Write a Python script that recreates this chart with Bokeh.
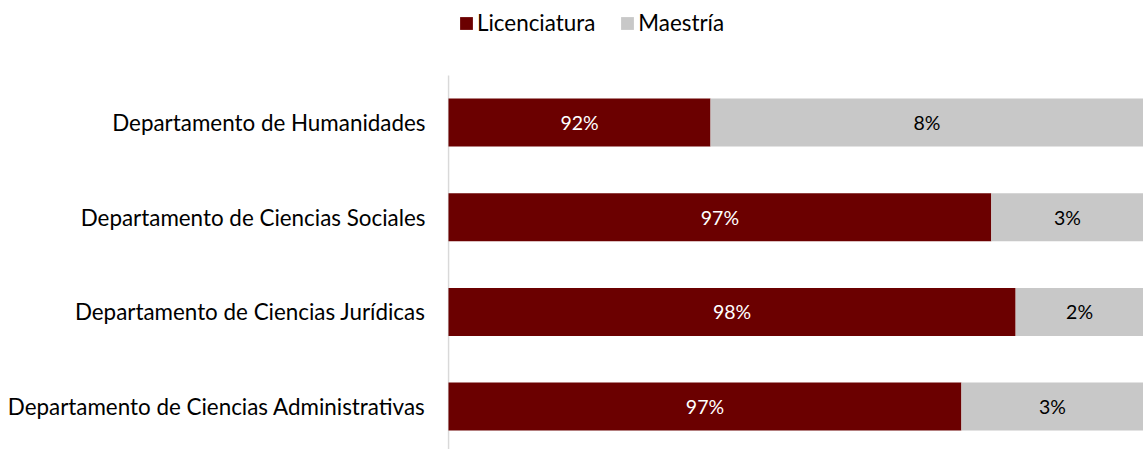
from bokeh.plotting import figure
from bokeh.models import ColumnDataSource, Range1d, FixedTicker, Legend, LegendItem, LabelSet
from bokeh.core.properties import value
from bokeh.embed import file_html
from bokeh.resources import INLINE

# ---- data ----
departments = [
    "Departamento de Humanidades",
    "Departamento de Ciencias Sociales",
    "Departamento de Ciencias Jurídicas",
    "Departamento de Ciencias Administrativas",
]
licenciatura_share = [37.7, 78.1, 81.6, 73.8]
maestria_share = [62.3, 21.9, 18.4, 26.2]
licenciatura_labels = ["92%", "97%", "98%", "97%"]
maestria_labels = ["8%", "3%", "2%", "3%"]
series_names = ["Licenciatura", "Maestría"]

DARK = "#6B0000"
GRAY = "#C8C8C8"
AXIS = "#D9D9D9"
FONT = "Lato"

n = len(departments)
ypos = [n - 1 - i for i in range(n)]
lic_end = licenciatura_share
tot_end = [a + b for a, b in zip(licenciatura_share, maestria_share)]

src = ColumnDataSource(dict(
    y=ypos,
    lic_end=lic_end,
    tot_end=tot_end,
    zero=[0] * n,
    lic_mid=[a / 2 for a in lic_end],
    mae_mid=[(a + b) / 2 for a, b in zip(lic_end, tot_end)],
    lic_lab=licenciatura_labels,
    mae_lab=maestria_labels,
))

Y_TOP, Y_BOT = 4.288, -0.453
p = figure(width=1143, height=449, output_backend="svg", toolbar_location=None,
           x_range=Range1d(-0.144, 100), y_range=Range1d(Y_BOT, Y_TOP),
           min_border_left=447, min_border_right=0, min_border_top=0, min_border_bottom=0)
p.outline_line_color = None
p.xgrid.visible = False
p.ygrid.visible = False
p.xaxis.visible = False

# vertical category axis line (starts below the legend, as in the reference)
p.segment(x0=[0], y0=[Y_BOT], x1=[0], y1=[3.496], line_color=AXIS, line_width=1.6)

bar_h = 0.507
r1 = p.hbar(y="y", left="zero", right="lic_end", height=bar_h, source=src,
            fill_color=DARK, line_color=None)
r2 = p.hbar(y="y", left="lic_end", right="tot_end", height=bar_h, source=src,
            fill_color=GRAY, line_color=None)

p.add_layout(LabelSet(x="lic_mid", y="y", text="lic_lab", source=src,
                      text_align="center", text_baseline="middle",
                      text_color="white", text_font=value(FONT), text_font_size="19.5px"))
p.add_layout(LabelSet(x="mae_mid", y="y", text="mae_lab", source=src,
                      text_align="center", text_baseline="middle",
                      text_color="#000000", text_font=value(FONT), text_font_size="19.5px"))

yax = p.yaxis[0]
yax.ticker = FixedTicker(ticks=ypos)
yax.major_label_overrides = {y: d for y, d in zip(ypos, departments)}
yax.major_tick_line_color = None
yax.major_tick_out = 0
yax.major_tick_in = 0
yax.minor_tick_line_color = None
yax.axis_line_color = None
yax.major_label_standoff = 22
yax.major_label_text_font = FONT
yax.major_label_text_font_size = "22.4px"
yax.major_label_text_color = "#000000"

legend = Legend(items=[LegendItem(label=series_names[0], renderers=[r1]),
                       LegendItem(label=series_names[1], renderers=[r2])],
                orientation="horizontal", location=(11, 413),
                padding=0, margin=0, spacing=24, label_standoff=3,
                glyph_width=16, glyph_height=16, label_height=20,
                label_text_font=FONT, label_text_font_size="22.4px",
                label_text_color="#000000", background_fill_alpha=0,
                border_line_color=None)
p.add_layout(legend)

open("out.html", "w").write(file_html(p, INLINE))
